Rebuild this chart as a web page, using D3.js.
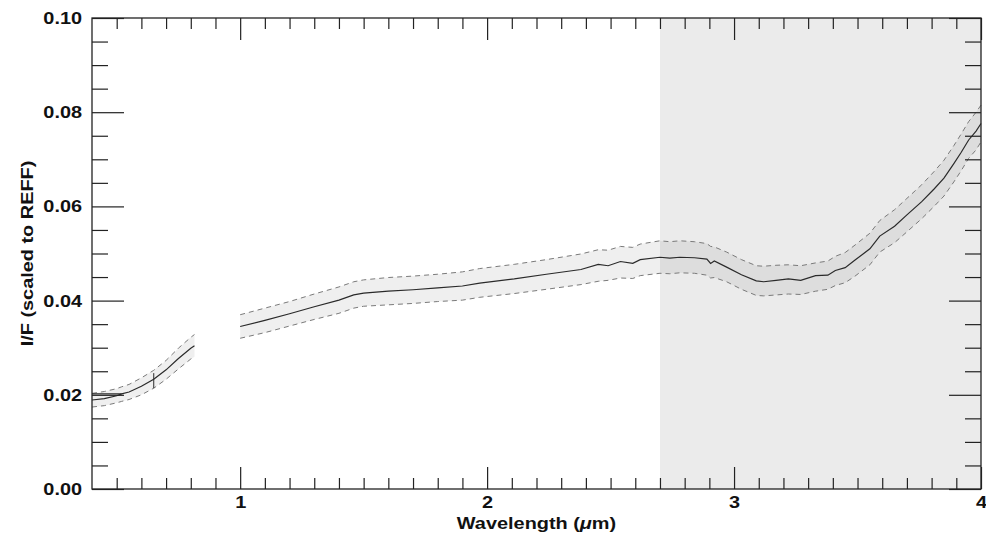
<!DOCTYPE html>
<html>
<head>
<meta charset="utf-8">
<script src="https://cdn.jsdelivr.net/npm/d3@7"></script>
<style>
  body { margin: 0; background: #fff; }
  svg { display: block; }
  text { font-family: "Liberation Sans", Arial, sans-serif; font-weight: bold; fill: #111; }
</style>
</head>
<body>
<svg id="chart" width="986" height="539"></svg>
<script>
// Visible-channel segment (short wavelengths)
const wlVis   = [0.40, 0.45, 0.50, 0.52, 0.55, 0.60, 0.65, 0.70, 0.75, 0.80, 0.815];
const iofVis  = [0.0189, 0.0192, 0.0198, 0.0202, 0.0206, 0.0218, 0.0233, 0.0253, 0.0277, 0.0299, 0.0304];
const hiVis   = [0.0203, 0.0207, 0.0213, 0.0217, 0.0222, 0.0236, 0.0252, 0.0273, 0.0299, 0.0322, 0.0328];
const loVis   = [0.0174, 0.0177, 0.0183, 0.0186, 0.0190, 0.0200, 0.0214, 0.0233, 0.0255, 0.0276, 0.0281];

// Infrared-channel segment
const wlIR  = [1.00, 1.10, 1.20, 1.30, 1.40, 1.46, 1.50, 1.60, 1.70, 1.80, 1.90, 1.97, 2.11, 2.24, 2.38,
               2.45, 2.49, 2.54, 2.59, 2.62, 2.70, 2.74, 2.78, 2.84, 2.89, 2.905, 2.92, 2.97, 3.03, 3.09,
               3.12, 3.17, 3.22, 3.27, 3.33, 3.38, 3.41, 3.45, 3.49, 3.55, 3.59, 3.65, 3.70, 3.76, 3.81,
               3.85, 3.89, 3.92, 3.95, 3.98, 4.00];
const iofIR = [0.0345, 0.0358, 0.0372, 0.0387, 0.0401, 0.0412, 0.0416, 0.0420, 0.0423, 0.0427, 0.0431, 0.0437, 0.0446, 0.0456, 0.0466,
               0.0477, 0.0474, 0.0483, 0.0479, 0.0487, 0.0492, 0.0490, 0.0492, 0.0491, 0.0488, 0.0479, 0.0484, 0.0471, 0.0455, 0.0442,
               0.0440, 0.0443, 0.0446, 0.0443, 0.0453, 0.0454, 0.0464, 0.0470, 0.0486, 0.0510, 0.0537, 0.0558, 0.0582, 0.0610, 0.0637,
               0.0660, 0.0691, 0.0715, 0.0741, 0.0760, 0.0776];
const hiIR  = [0.0370, 0.0384, 0.0398, 0.0414, 0.0429, 0.0440, 0.0444, 0.0449, 0.0452, 0.0456, 0.0461, 0.0468, 0.0477, 0.0487, 0.0499,
               0.0508, 0.0507, 0.0515, 0.0513, 0.0520, 0.0527, 0.0525, 0.0527, 0.0525, 0.0521, 0.0515, 0.0514, 0.0503, 0.0487, 0.0474,
               0.0473, 0.0475, 0.0476, 0.0474, 0.0480, 0.0484, 0.0494, 0.0502, 0.0518, 0.0543, 0.0570, 0.0593, 0.0617, 0.0646, 0.0674,
               0.0698, 0.0729, 0.0754, 0.0780, 0.0800, 0.0815];
const loIR  = [0.0320, 0.0332, 0.0346, 0.0360, 0.0373, 0.0384, 0.0388, 0.0391, 0.0394, 0.0398, 0.0401, 0.0407, 0.0415, 0.0424, 0.0434,
               0.0441, 0.0443, 0.0448, 0.0447, 0.0453, 0.0458, 0.0457, 0.0459, 0.0458, 0.0454, 0.0448, 0.0449, 0.0440, 0.0424, 0.0411,
               0.0410, 0.0412, 0.0414, 0.0413, 0.0420, 0.0424, 0.0432, 0.0438, 0.0452, 0.0476, 0.0503, 0.0523, 0.0546, 0.0574, 0.0600,
               0.0622, 0.0652, 0.0676, 0.0702, 0.0720, 0.0737];

// Reference level drawn at the short-wavelength end
const wlRef  = [0.40, 0.52];
const iofRef = [0.0202, 0.0202];

// Single error bar on the visible segment
const errBarWl = [0.65];
const errBarLo = [0.0214];
const errBarHi = [0.0246];

// Shaded wavelength range
const shadeRange = [2.7, 4.0];

// Axis ticks and labels
const xDomain = [0.4, 4.0];
const yDomain = [0.0, 0.1];
const xMajorTicks = [1, 2, 3, 4];
const xTickLabels = ["1", "2", "3", "4"];
const yMajorTicks = [0.00, 0.02, 0.04, 0.06, 0.08, 0.10];
const yTickLabels = ["0.00", "0.02", "0.04", "0.06", "0.08", "0.10"];
const xMinorStep = 0.1;
const yMinorStep = 0.005;

const svg = d3.select("#chart");
const m = { left: 92, right: 981, top: 18, bottom: 489 };
const FONT = '"Liberation Sans", Arial, sans-serif';
const STRETCH = "scale(1.17,1)";   // wide lettering

const x = d3.scaleLinear().domain(xDomain).range([m.left, m.right]);
const y = d3.scaleLinear().domain(yDomain).range([m.bottom, m.top]);

// shaded band
svg.append("rect")
  .attr("x", x(shadeRange[0])).attr("y", m.top)
  .attr("width", x(shadeRange[1]) - x(shadeRange[0]))
  .attr("height", m.bottom - m.top)
  .attr("fill", "#ebebeb");

function drawSegment(wl, iof, hi, lo) {
  const pts = wl.map((w, i) => ({ w, v: iof[i], hi: hi[i], lo: lo[i] }));
  svg.append("path").datum(pts)
    .attr("d", d3.area().x(d => x(d.w)).y0(d => y(d.lo)).y1(d => y(d.hi)))
    .attr("fill", "#666").attr("fill-opacity", 0.105).attr("stroke", "none");
  ["hi", "lo"].forEach(k => {
    svg.append("path").datum(pts)
      .attr("d", d3.line().x(d => x(d.w)).y(d => y(d[k])))
      .attr("fill", "none").attr("stroke", "#7a7a7a").attr("stroke-width", 1)
      .attr("stroke-dasharray", "5,4");
  });
  svg.append("path").datum(pts)
    .attr("d", d3.line().x(d => x(d.w)).y(d => y(d.v)))
    .attr("fill", "none").attr("stroke", "#2a2a2a").attr("stroke-width", 1.2);
}

drawSegment(wlVis, iofVis, hiVis, loVis);
drawSegment(wlIR, iofIR, hiIR, loIR);

svg.append("path")
  .datum(wlRef.map((w, i) => [w, iofRef[i]]))
  .attr("d", d3.line().x(d => x(d[0])).y(d => y(d[1])))
  .attr("fill", "none").attr("stroke", "#2a2a2a").attr("stroke-width", 1.2);

svg.selectAll(".errbar").data(errBarWl).enter().append("line")
  .attr("class", "errbar")
  .attr("x1", d => x(d)).attr("x2", d => x(d))
  .attr("y1", (d, i) => y(errBarLo[i])).attr("y2", (d, i) => y(errBarHi[i]))
  .attr("stroke", "#2a2a2a").attr("stroke-width", 1);

// Tick positions
const xMinor = d3.range(Math.round(xDomain[0] / xMinorStep), Math.round(xDomain[1] / xMinorStep) + 1)
  .map(k => +(k * xMinorStep).toFixed(2))
  .filter(v => !xMajorTicks.includes(v) && v > xDomain[0] && v < xDomain[1]);
const yMinor = d3.range(0, Math.round(yDomain[1] / yMinorStep) + 1)
  .map(k => +(k * yMinorStep).toFixed(3))
  .filter(v => !yMajorTicks.some(t => Math.abs(t - v) < 1e-9));

function styleAxis(g) {
  g.select(".domain").remove();
  g.selectAll(".tick line").attr("stroke", "#222").attr("stroke-width", 1.2);
}
function styleLabels(g) {
  g.attr("font-size", null).attr("font-family", null);
  g.selectAll("text")
    .attr("font-size", 17).attr("font-family", FONT).attr("font-weight", "bold")
    .attr("fill", "#111").attr("transform", STRETCH);
}

// bottom
svg.append("g").attr("transform", `translate(0,${m.bottom})`)
  .call(d3.axisBottom(x).tickValues(xMinor).tickSize(-11).tickFormat(""))
  .call(styleAxis);
svg.append("g").attr("transform", `translate(0,${m.bottom})`)
  .call(d3.axisBottom(x).tickValues(xMajorTicks).tickSize(-22).tickPadding(7)
        .tickFormat((d, i) => xTickLabels[i]))
  .call(styleAxis).call(styleLabels);
// top
svg.append("g").attr("transform", `translate(0,${m.top})`)
  .call(d3.axisTop(x).tickValues(xMinor).tickSize(-11).tickFormat(""))
  .call(styleAxis);
svg.append("g").attr("transform", `translate(0,${m.top})`)
  .call(d3.axisTop(x).tickValues(xMajorTicks).tickSize(-22).tickFormat(""))
  .call(styleAxis);
// left
svg.append("g").attr("transform", `translate(${m.left},0)`)
  .call(d3.axisLeft(y).tickValues(yMinor).tickSize(-16).tickFormat(""))
  .call(styleAxis);
svg.append("g").attr("transform", `translate(${m.left},0)`)
  .call(d3.axisLeft(y).tickValues(yMajorTicks).tickSize(-32).tickPadding(8.5)
        .tickFormat((d, i) => yTickLabels[i]))
  .call(styleAxis).call(styleLabels);
// right
svg.append("g").attr("transform", `translate(${m.right},0)`)
  .call(d3.axisRight(y).tickValues(yMinor).tickSize(-16).tickFormat(""))
  .call(styleAxis);
svg.append("g").attr("transform", `translate(${m.right},0)`)
  .call(d3.axisRight(y).tickValues(yMajorTicks).tickSize(-32).tickFormat(""))
  .call(styleAxis);

// frame
svg.append("rect")
  .attr("x", m.left).attr("y", m.top)
  .attr("width", m.right - m.left).attr("height", m.bottom - m.top)
  .attr("fill", "none").attr("stroke", "#222").attr("stroke-width", 1.3);

// axis titles
const xt = svg.append("text")
  .attr("transform", `translate(${(m.left + m.right) / 2},529) ${STRETCH}`)
  .attr("text-anchor", "middle").attr("font-size", 17);
xt.append("tspan").text("Wavelength (");
xt.append("tspan").attr("font-style", "italic").text("μ");
xt.append("tspan").text("m)");

svg.append("text")
  .attr("transform", `translate(33,${(m.top + m.bottom) / 2}) rotate(-90) ${STRETCH}`)
  .attr("text-anchor", "middle").attr("font-size", 17)
  .text("I/F (scaled to REFF)");
</script>
</body>
</html>
